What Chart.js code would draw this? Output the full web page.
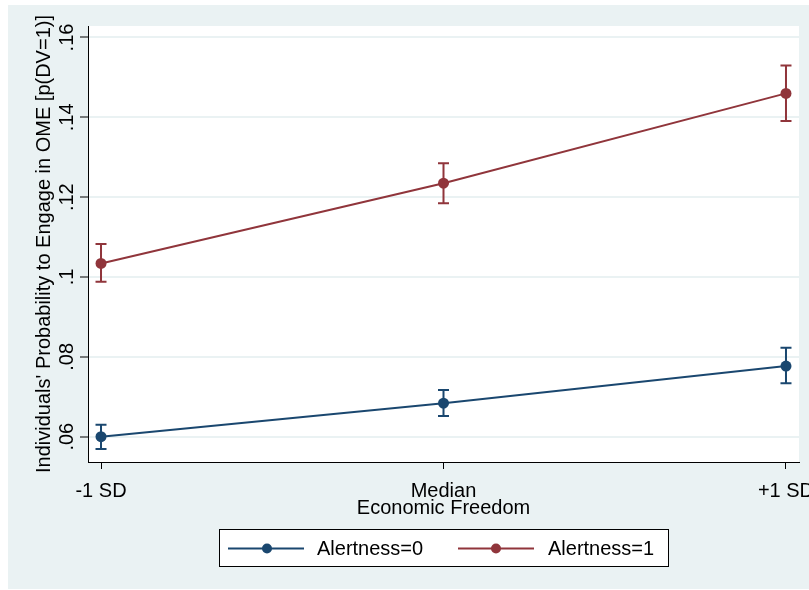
<!DOCTYPE html>
<html>
<head>
<meta charset="utf-8">
<script src="https://cdn.jsdelivr.net/npm/chart.js@4"></script>
<style>
  html, body { margin: 0; padding: 0; background: #fff; }
  canvas { display: block; }
</style>
</head>
<body>
<canvas id="c" width="809" height="590"></canvas>
<script>
// --- data ---
const xPos = [-1, 0, 1];
const xLabels = ['-1 SD', 'Median', '+1 SD'];
const seriesNames = ['Alertness=0', 'Alertness=1'];

const alert0 = [0.0600, 0.0684, 0.0777];
const alert0Lo = [0.0569, 0.0652, 0.0734];
const alert0Hi = [0.0630, 0.0717, 0.0823];

const alert1 = [0.1034, 0.1235, 0.1460];
const alert1Lo = [0.0988, 0.1185, 0.1391];
const alert1Hi = [0.1083, 0.1285, 0.1530];

const yTicks = [0.06, 0.08, 0.10, 0.12, 0.14, 0.16];
const yTickLabels = ['.06', '.08', '.1', '.12', '.14', '.16'];

const xTitle = 'Economic Freedom';
const yTitle = "Individuals' Probability to Engage in OME [p(DV=1)]";

// --- styles ---
const BLUE = '#1a476f';
const RED = '#90353b';
const BG = '#eaf2f3';
const FONT = "'Liberation Sans', Arial, sans-serif";

const bands = [
  { lo: alert0Lo, hi: alert0Hi, color: BLUE },
  { lo: alert1Lo, hi: alert1Hi, color: RED }
];

// background: white page, light panel, white plot region
const bgPlugin = {
  id: 'bg',
  beforeDraw(chart) {
    const { ctx, chartArea: a } = chart;
    ctx.save();
    ctx.fillStyle = '#fff';
    ctx.fillRect(0, 0, chart.width, chart.height);
    ctx.fillStyle = BG;
    ctx.fillRect(8, 5, chart.width - 8, 584);
    ctx.fillStyle = '#fff';
    ctx.fillRect(a.left, a.top, a.right - a.left, a.bottom - a.top);
    ctx.restore();
  }
};

// confidence interval caps
const errPlugin = {
  id: 'errbars',
  afterDatasetsDraw(chart) {
    const { ctx, scales: { x, y } } = chart;
    ctx.save();
    ctx.lineWidth = 2;
    bands.forEach(b => {
      ctx.strokeStyle = b.color;
      xPos.forEach((xv, i) => {
        const px = x.getPixelForValue(xv);
        const top = y.getPixelForValue(b.hi[i]);
        const bot = y.getPixelForValue(b.lo[i]);
        ctx.beginPath();
        ctx.moveTo(px, top); ctx.lineTo(px, bot);
        ctx.moveTo(px - 5.5, top); ctx.lineTo(px + 5.5, top);
        ctx.moveTo(px - 5.5, bot); ctx.lineTo(px + 5.5, bot);
        ctx.stroke();
      });
    });
    ctx.restore();
  }
};

// rotated y tick labels, y title and the boxed legend
const textPlugin = {
  id: 'texts',
  afterDraw(chart) {
    const { ctx, scales: { y } } = chart;
    ctx.save();
    ctx.fillStyle = '#000';
    ctx.font = `20px ${FONT}`;
    ctx.textAlign = 'center';
    ctx.textBaseline = 'middle';
    yTicks.forEach((v, i) => {
      ctx.save();
      ctx.translate(67, y.getPixelForValue(v));
      ctx.rotate(-Math.PI / 2);
      ctx.fillText(yTickLabels[i], 0, 0);
      ctx.restore();
    });
    ctx.save();
    ctx.translate(44, (chart.chartArea.top + chart.chartArea.bottom) / 2);
    ctx.rotate(-Math.PI / 2);
    ctx.fillText(yTitle, 0, 0);
    ctx.restore();

    // legend
    ctx.fillStyle = '#fff';
    ctx.fillRect(219.5, 529.5, 449, 37);
    ctx.strokeStyle = '#000';
    ctx.lineWidth = 1;
    ctx.strokeRect(219.5, 529.5, 449, 37);
    const items = [
      { x0: 228, x1: 304, dot: 267, tx: 317, color: BLUE },
      { x0: 458, x1: 534, dot: 496, tx: 548, color: RED }
    ];
    items.forEach((it, i) => {
      ctx.strokeStyle = it.color;
      ctx.lineWidth = 2;
      ctx.beginPath();
      ctx.moveTo(it.x0, 548.5); ctx.lineTo(it.x1, 548.5);
      ctx.stroke();
      ctx.fillStyle = it.color;
      ctx.beginPath();
      ctx.arc(it.dot, 548.5, 5, 0, Math.PI * 2);
      ctx.fill();
      ctx.fillStyle = '#000';
      ctx.textAlign = 'left';
      ctx.textBaseline = 'alphabetic';
      ctx.fillText(seriesNames[i], it.tx, 555);
    });
    ctx.restore();
  }
};

const toPts = vals => vals.map((v, i) => ({ x: xPos[i], y: v }));

new Chart(document.getElementById('c'), {
  type: 'line',
  data: {
    datasets: [
      { label: seriesNames[0], data: toPts(alert0), borderColor: BLUE, backgroundColor: BLUE,
        borderWidth: 2, pointRadius: 5.5, pointBorderWidth: 0, pointBackgroundColor: BLUE },
      { label: seriesNames[1], data: toPts(alert1), borderColor: RED, backgroundColor: RED,
        borderWidth: 2, pointRadius: 5.5, pointBorderWidth: 0, pointBackgroundColor: RED }
    ]
  },
  options: {
    responsive: false,
    animation: false,
    layout: { padding: { top: 26, right: 10, left: 0, bottom: 0 } },
    plugins: { legend: { display: false }, tooltip: { enabled: false } },
    scales: {
      x: {
        type: 'linear',
        min: -1.038,
        max: 1.038,
        afterBuildTicks: s => { s.ticks = xPos.map(v => ({ value: v })); },
        afterFit: s => { s.height = 128; s.paddingLeft = 0; s.paddingRight = 0; },
        grid: { drawOnChartArea: false, tickLength: 7, tickColor: '#000', tickWidth: 1 },
        border: { color: '#000', width: 1 },
        ticks: {
          autoSkip: false, maxRotation: 0, padding: 10, color: '#000',
          font: { family: FONT, size: 20 },
          callback: v => xLabels[xPos.indexOf(v)]
        },
        title: { display: true, text: xTitle, color: '#000', font: { family: FONT, size: 20 },
          padding: { top: 0, bottom: 70 } }
      },
      y: {
        min: 0.05366,
        max: 0.16288,
        afterBuildTicks: s => { s.ticks = yTicks.map(v => ({ value: v })); },
        afterFit: s => { s.width = 88; },
        grid: { color: BG, lineWidth: 2, tickLength: 8, tickColor: '#000', tickWidth: 1 },
        border: { color: '#000', width: 1 },
        ticks: { display: false }
      }
    }
  },
  plugins: [bgPlugin, errPlugin, textPlugin]
});
</script>
</body>
</html>
